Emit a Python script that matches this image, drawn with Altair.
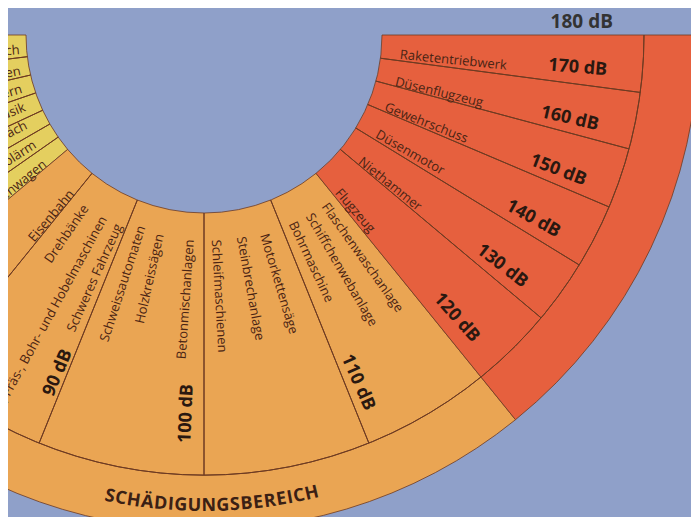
import math
import numpy as np
import pandas as pd
import altair as alt

# ---------------- data ----------------
# dB value of each boundary and the fan angle where it sits (deg from straight down, + to the right)
DB_BREAKS = [0, 10, 20, 30, 40, 50, 60, 70, 80, 90, 100, 110, 120, 130, 140, 150, 160, 170, 180]
FAN_ANGLE = [-90, -83, -77, -71, -65, -60, -55, -50, -39, -22, 0, 22, 39, 50, 58.5, 67, 75, 82.5, 90]

ZONE_ID = ["low", "damage", "danger"]
ZONE_START = [0, 70, 120]
ZONE_END = [70, 120, 180]
ZONE_COLOR = ["#e4cf5f", "#eaa553", "#e6603e"]

GRID_DB = [10, 20, 30, 40, 50, 60, 80, 90, 100, 110, 130, 140, 150, 160, 170]

# labels reading outward (start at the inner edge)
OUT_NAMES = ["Raketentriebwerk", "Düsenflugzeug", "Gewehrschuss", "Düsenmotor", "Niethammer", "Flugzeug",
             "Schleifmaschienen", "Steinbrechanlage", "Motorkettensäge", "Bohrmaschine",
             "Schiffchenwebanlage", "Flaschenwaschanlage"]
OUT_POS = [172.3, 161.7, 151.75, 142.1, 131.5, 121.5, 101.5, 104.7, 107.6, 111.9, 114.9, 117.9]
OUT_R = [197, 197, 195, 199, 200, 205, 205, 205, 208, 207, 208, 208]

# labels reading inward (end at the inner edge)
IN_NAMES = ["Betonmischanlagen", "Holzkreissägen", "Schweissautomaten", "Schweres Fahrzeug",
            "Dreh-, Fräs-, Bohr- und Hobelmaschinen", "Drehbänke", "Eisenbahn",
            "Personenwagen", "Bürolärm", "Gespräch", "Musik", "Flüstern", "Blätterrauschen", "Atemgeräusch"]
IN_POS = [98.2, 94.3, 91.8, 88.7, 86.0, 82.6, 79.0, 67.6, 55.6, 43.6, 34.8, 25.8, 16.8, 6.7]
IN_R = [205, 204, 201, 208, 208, 208, 205, 204, 201, 199, 193, 190, 187, 185]

DB_VALUES = [170, 160, 150, 140, 130, 120, 110, 100, 90]
DB_POS = [173.3, 162.8, 152.6, 142.7, 132.6, 122.5, 111.1, 98.8, 89.2]
DB_R = [375, 375, 379, 377, 377, 379, 380, 379, 368]

TOP_VALUE = 180
TOP_POS = 182.7
TOP_R = 378

TITLE = "SCHÄDIGUNGSBEREICH"

# ---------------- layout / style ----------------
CX, CY = 196, 27
R_IN, R_MID, R_OUT = 178, 440, 495
BG = "#8fa0c9"
LINE = "#6e3b22"

THETA_RANGE = [(180 - a) * math.pi / 180 for a in FAN_ANGLE]
theta_scale = alt.Scale(domain=DB_BREAKS, range=THETA_RANGE, zero=False, nice=False)


def fan_angle(db):
    return float(np.interp(db, DB_BREAKS, FAN_ANGLE))


def rot(db):
    a = fan_angle(db)
    return 90 - a if a > 0 else -90 - a


def theta(field):
    return alt.Theta(field, type="quantitative", scale=theta_scale, stack=False)


center = dict(x=alt.value(CX), y=alt.value(CY))

zones = pd.DataFrame({"zone": ZONE_ID, "start": ZONE_START, "end": ZONE_END, "color": ZONE_COLOR})
fill = alt.Chart(zones).mark_arc(radius=R_OUT, radius2=R_IN, stroke=LINE, strokeWidth=1, strokeOpacity=0.8).encode(
    theta=theta("start"), theta2="end", color=alt.Color("color:N", scale=None), **center)

band = pd.DataFrame({"start": [0], "end": [180]})
mid_arc = alt.Chart(band).mark_arc(radius=R_MID, radius2=R_MID, fillOpacity=0, stroke=LINE, strokeWidth=1).encode(
    theta=theta("start"), theta2="end", **center)

grid = alt.Chart(pd.DataFrame({"db": GRID_DB})).mark_arc(
    radius=R_MID, radius2=R_IN, fillOpacity=0, stroke=LINE, strokeWidth=1).encode(
    theta=theta("db"), theta2="db", **center)

out_df = pd.DataFrame({"name": OUT_NAMES, "pos": OUT_POS, "r": OUT_R})
out_df["rot"] = [rot(p) for p in OUT_POS]
in_df = pd.DataFrame({"name": IN_NAMES, "pos": IN_POS, "r": IN_R})
in_df["rot"] = [rot(p) for p in IN_POS]


def label_layer(df, align, size, weight, color, text_field="name"):
    return alt.Chart(df).mark_text(align=align, baseline="middle", font="Open Sans", fontSize=size,
                                   fontWeight=weight, color=color).encode(
        theta=theta("pos"), radius=alt.Radius("r:Q", scale=None), angle=alt.Angle("rot:Q", scale=None),
        text=alt.Text(f"{text_field}:N"), **center)


out_labels = label_layer(out_df, "left", 13, "normal", "#4a2414")
in_labels = label_layer(in_df, "right", 13, "normal", "#4a2414")

db_df = pd.DataFrame({"value": DB_VALUES, "pos": DB_POS, "r": DB_R})
db_df["label"] = [f"{v} dB" for v in DB_VALUES]
db_df["rot"] = [rot(p) for p in DB_POS]
db_labels = label_layer(db_df, "center", 18, "bold", "#2a1810", "label")

top_df = pd.DataFrame({"label": [f"{TOP_VALUE} dB"], "pos": [TOP_POS], "r": [TOP_R], "rot": [0]})
top_label = label_layer(top_df, "center", 19, "bold", "#333333", "label")

# curved zone title, one character at a time
W = {"S": .55, "C": .60, "H": .74, "Ä": .68, "D": .71, "I": .32, "G": .70, "U": .72,
     "N": .76, "B": .66, "E": .55, "R": .65}
FS_T, R_T, MID_A = 18, 471, 0.95
adv = [W[c] * FS_T + 0.9 for c in TITLE]
total = sum(adv)
start_a = MID_A - total / R_T * 180 / math.pi / 2
chars, cpos, crot = [], [], []
acc = 0.0
for c, w in zip(TITLE, adv):
    a = start_a + (acc + w / 2) / R_T * 180 / math.pi
    acc += w
    chars.append(c)
    cpos.append(float(np.interp(a, FAN_ANGLE, DB_BREAKS)))
    crot.append(-a)
title_df = pd.DataFrame({"name": chars, "pos": cpos, "r": [R_T] * len(chars), "rot": crot})
title = label_layer(title_df, "center", FS_T, "bold", "#3b2014")

chart = alt.layer(fill, mid_arc, grid, out_labels, in_labels, db_labels, top_label, title).properties(
    width=683, height=509, padding=0, autosize=alt.AutoSizeParams(type="none")
).configure(background=BG).configure_view(stroke=None)

chart.save("out.html", embed_options={"renderer": "svg", "actions": False})
